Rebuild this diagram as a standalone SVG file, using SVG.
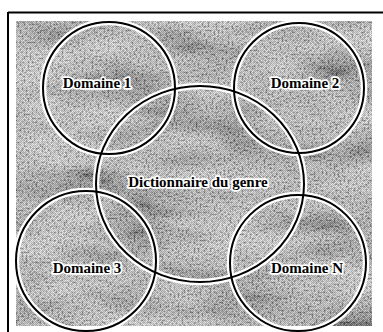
<svg xmlns="http://www.w3.org/2000/svg" width="383" height="332" viewBox="0 0 383 332">
  <style>
    .halo { fill: none; stroke: #ffffff; stroke-width: 6.5; }
    .ring { fill: none; stroke: #000000; stroke-width: 2; }
    .lbl { font-family: "Liberation Serif", "Times New Roman", serif; font-weight: bold; font-size: 15px; fill: #000; stroke: #fff; stroke-width: 3.5; stroke-linejoin: round; paint-order: stroke; text-anchor: middle; }
  </style>
  <defs>
    <pattern id="dither" width="2" height="2" patternUnits="userSpaceOnUse">
      <rect width="2" height="2" fill="#cfcfcf"/>
      <rect width="1" height="1" fill="#6e6e6e"/>
      <rect x="1" y="1" width="1" height="1" fill="#6e6e6e"/>
    </pattern>
    <filter id="clouds" x="0" y="0" width="100%" height="100%" filterUnits="objectBoundingBox">
      <feTurbulence type="fractalNoise" baseFrequency="0.01 0.03" numOctaves="4" seed="7"/>
      <feColorMatrix type="matrix" values="2.2 0 0 0 -0.5  2.2 0 0 0 -0.5  2.2 0 0 0 -0.5  0 0 0 0 0.45"/>
    </filter>
    <filter id="speck" x="0" y="0" width="100%" height="100%" filterUnits="objectBoundingBox">
      <feTurbulence type="fractalNoise" baseFrequency="0.5" numOctaves="1" seed="2"/>
      <feColorMatrix type="matrix" values="3 0 0 0 -1  3 0 0 0 -1  3 0 0 0 -1  0 0 0 0 0.3"/>
    </filter>
  </defs>
  <rect width="383" height="332" fill="#ffffff"/>
  <g id="frame">
    <line x1="8" y1="12.5" x2="383" y2="12.5" stroke="#000" stroke-width="2"/>
    <line x1="8" y1="12" x2="8" y2="332" stroke="#000" stroke-width="2"/>
  </g>
  <g id="background">
    <rect x="16" y="21" width="356" height="305" fill="url(#dither)"/>
    <rect x="16" y="21" width="356" height="305" filter="url(#clouds)"/>
    <rect x="16" y="21" width="356" height="305" filter="url(#speck)"/>
  </g>
  <g id="halos">
    <ellipse class="halo" cx="200" cy="184" rx="104" ry="98"/>
    <circle class="halo" cx="109" cy="88" r="66"/>
    <circle class="halo" cx="299" cy="88" r="65"/>
    <circle class="halo" cx="86" cy="261" r="70"/>
    <circle class="halo" cx="298" cy="263" r="68"/>
  </g>
  <g id="dictionnaire">
    <ellipse class="ring" cx="200" cy="184" rx="104" ry="98"/>
    <text class="lbl" x="198" y="187">Dictionnaire du genre</text>
  </g>
  <g id="domaine1">
    <circle class="ring" cx="109" cy="88" r="66"/>
    <text class="lbl" x="97" y="88">Domaine 1</text>
  </g>
  <g id="domaine2">
    <circle class="ring" cx="299" cy="88" r="65"/>
    <text class="lbl" x="305" y="88">Domaine 2</text>
  </g>
  <g id="domaine3">
    <circle class="ring" cx="86" cy="261" r="70"/>
    <text class="lbl" x="87" y="273">Domaine 3</text>
  </g>
  <g id="domaineN">
    <circle class="ring" cx="298" cy="263" r="68"/>
    <text class="lbl" x="307" y="273">Domaine N</text>
  </g>
</svg>
